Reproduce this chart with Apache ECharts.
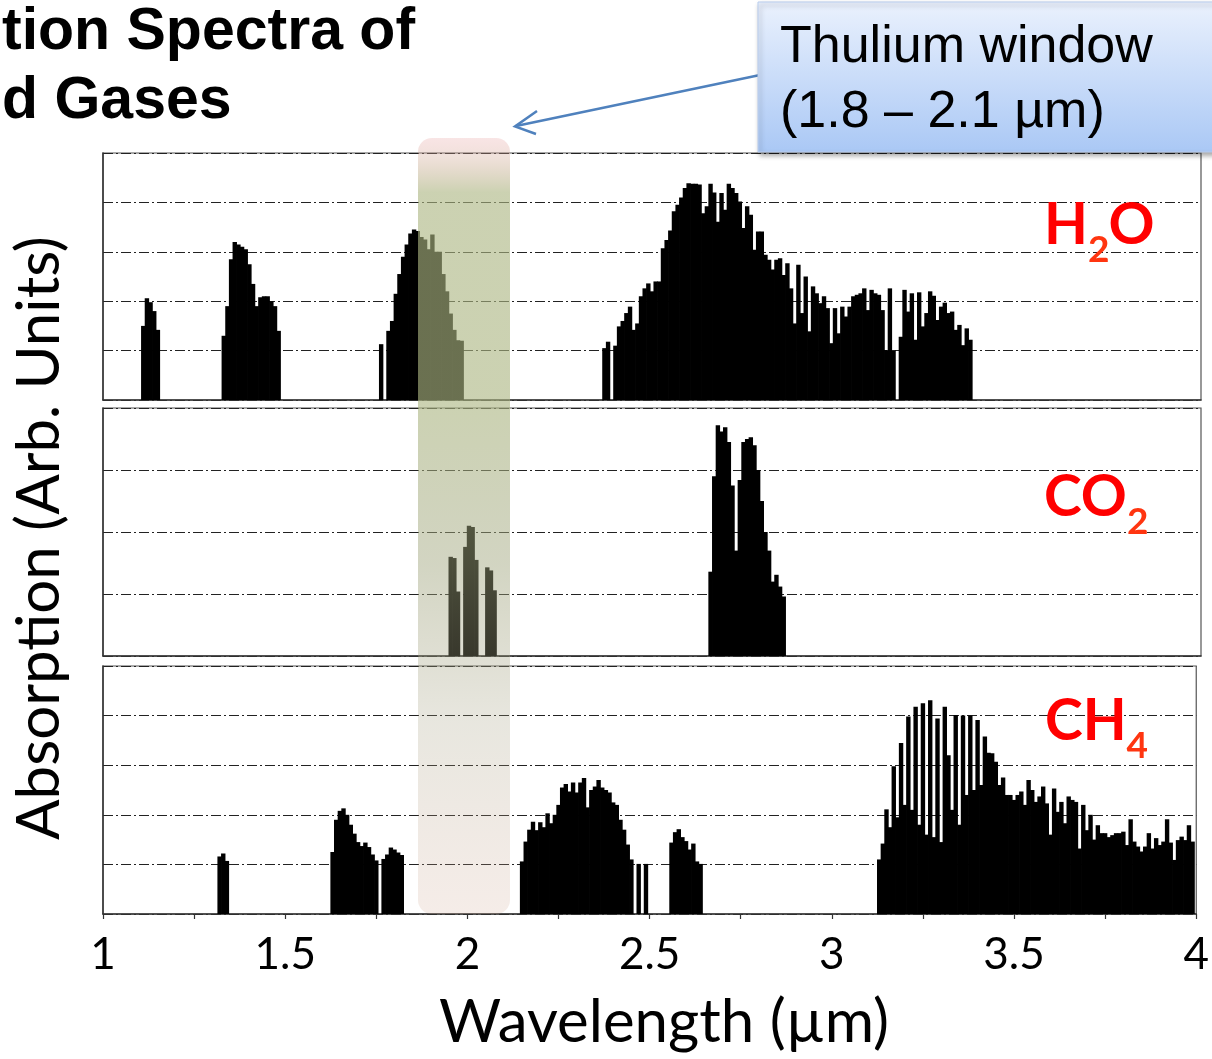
<!DOCTYPE html>
<html><head><meta charset="utf-8">
<script src="https://cdn.jsdelivr.net/npm/echarts@6/dist/echarts.min.js"></script>
<style>html,body{margin:0;padding:0;background:#fff}#chart{width:1212px;height:1059px}</style>
</head><body><div id="chart"></div>
<script>
// ---------------- data ----------------
const WL_STEP = 0.01;                       // spectral sampling (µm)
const X_TICK_LABELS = ['1', '1.5', '2', '2.5', '3', '3.5', '4'];

// H2O absorption bands (start wavelength, values every 0.01 µm)
const H2O_STARTS = [1.11, 1.33, 1.76, 2.37];
const H2O_BAND_1 = [1.5, 2.06, 1.98, 1.8, 1.42];
const H2O_BAND_2 = [1.3, 1.9, 2.85, 3.2, 3.15, 3.1, 3.05, 2.75, 2.35, 1.9, 2.08, 2.1, 2.1, 2.0, 1.9, 1.4];
const H2O_BAND_3 = [1.13, 0, 1.4, 1.6, 2.15, 2.55, 2.9, 3.15, 3.37, 3.45, 3.42, 3.3, 3.25, 3.05, 3.35, 3.0, 3.0, 2.55, 2.2, 1.75, 1.42, 1.21, 1.2];
const H2O_BAND_4 = [
  1.05, 1.18, 0, 1.1, 1.49, 1.6, 1.76, 1.89, 1.42, 1.55,
  2.1, 2.26, 2.36, 2.2, 2.4, 2.4, 3.07, 3.24, 3.43, 3.82,
  3.95, 4.1, 4.29, 4.39, 4.38, 4.38, 4.36, 3.78, 3.92, 4.38,
  4.2, 3.61, 4.19, 3.85, 4.38, 4.29, 4.19, 4.02, 3.48, 3.92,
  3.75, 3.04, 3.41, 3.41, 2.94, 2.84, 2.64, 2.84, 2.87, 2.53,
  2.77, 2.26, 1.55, 2.74, 1.76, 2.5, 1.39, 2.3, 2.16, 1.96,
  2.1, 1.86, 1.15, 1.86, 1.35, 1.89, 1.69, 1.89, 2.1, 2.13,
  2.16, 2.26, 1.82, 2.23, 2.16, 2.13, 1.82, 1.01, 2.26, 1.01,
  0, 1.28, 2.23, 1.79, 2.16, 1.22, 2.18, 1.49, 1.76, 2.2,
  2.11, 1.62, 1.89, 1.97, 1.76, 1.79, 1.42, 1.52, 1.11, 1.45,
  1.22];

// CO2 absorption bands
const CO2_STARTS = [1.95, 1.99, 2.05, 2.66];
const CO2_BAND_1 = [1.6, 1.58, 1.04];
const CO2_BAND_2 = [1.76, 2.1, 2.08, 1.55];
const CO2_BAND_3 = [1.43, 1.38, 1.06];
const CO2_BAND_4 = [1.36, 2.9, 3.72, 3.62, 3.69, 3.45, 2.75, 1.7, 2.84, 3.45, 3.5, 3.53, 3.4, 3.0, 2.5, 2.0, 1.7, 1.2, 1.31, 1.12, 0.96];

// CH4 absorption bands
const CH4_STARTS = [1.32, 1.63, 1.77, 2.15, 2.47, 2.56, 3.13];
const CH4_BAND_1 = [1.16, 1.22, 1.07];
const CH4_BAND_2 = [1.25, 1.9, 2.08, 2.13, 2.0, 1.8, 1.62, 1.45, 1.37, 1.44, 1.35, 1.2, 1.08];
const CH4_BAND_3 = [1.11, 1.2, 1.34, 1.3, 1.24, 1.19];
const CH4_BAND_4 = [1.06, 1.46, 1.7, 1.86, 1.69, 1.85, 1.75, 2.03, 1.83, 2.0, 2.2, 2.55, 2.62, 2.47, 2.65, 2.45, 2.65, 2.74, 2.15, 2.5, 2.57, 2.7, 2.55, 2.5, 2.45, 2.25, 2.2, 1.9, 1.7, 1.4, 1.1];
const CH4_BAND_5 = [1.01, 0, 1.01];
const CH4_BAND_6 = [1.44, 1.65, 1.71, 1.55, 1.47, 1.3, 1.42, 1.06, 1.01];
const CH4_BAND_7 = [
  1.1, 1.42, 2.11, 1.75, 2.98, 1.95, 3.45, 2.2, 3.98, 2.1,
  4.18, 1.8, 4.25, 1.6, 4.31, 1.55, 3.94, 1.45, 4.18, 3.2,
  2.1, 4.01, 1.8, 4.0, 2.4, 4.0, 2.5, 3.91, 2.6, 3.58,
  3.25, 3.24, 3.07, 2.6, 2.75, 2.4, 2.4, 2.3, 2.4, 2.47,
  2.2, 2.7, 2.5, 2.26, 2.37, 2.57, 2.23, 1.6, 2.53, 2.06,
  2.26, 1.83, 2.37, 2.3, 2.26, 1.32, 2.2, 1.69, 2.0, 1.5,
  1.79, 1.63, 1.63, 1.55, 1.59, 1.63, 1.63, 1.66, 1.39, 1.91,
  1.46, 1.36, 1.26, 1.36, 1.63, 1.32, 1.53, 1.39, 1.46, 1.91,
  1.44, 1.09, 1.49, 1.56, 1.49, 1.79, 1.46];

// ---------------- helpers ----------------
function buildData(starts, bands) {
  const out = [];
  bands.forEach((vals, i) => vals.forEach((v, j) => {
    if (v > 0) out.push([+(starts[i] + j * WL_STEP).toFixed(2), v]);
  }));
  return out;
}
const h2oData = buildData(H2O_STARTS, [H2O_BAND_1, H2O_BAND_2, H2O_BAND_3, H2O_BAND_4]);
const co2Data = buildData(CO2_STARTS, [CO2_BAND_1, CO2_BAND_2, CO2_BAND_3, CO2_BAND_4]);
const ch4Data = buildData(CH4_STARTS, [CH4_BAND_1, CH4_BAND_2, CH4_BAND_3, CH4_BAND_4, CH4_BAND_5, CH4_BAND_6, CH4_BAND_7]);

const mctx = document.createElement('canvas').getContext('2d');
function textWidth(font, t) { mctx.font = font; return mctx.measureText(t).width; }

function txt(text, x, y, font, fill, align, extra) {
  return Object.assign({
    type: 'text', z: 120,
    style: { text: text, x: x, y: y, font: font, fill: fill,
             align: align || 'left', textAlign: align || 'left',
             verticalAlign: 'middle', textVerticalAlign: 'middle' }
  }, extra || {});
}

// chemical formula with subscripts; baseline-based placement (Lato: middle = baseline - 0.387em)
function formula(parts, left, baseline) {
  const mainSize = 57, subSize = 37, subDrop = 16;
  const els = [];
  let x = left;
  parts.forEach(p => {
    const size = p.sub ? subSize : mainSize;
    const font = 'bold ' + size + 'px Lato';
    const base = p.sub ? baseline + subDrop : baseline;
    els.push(txt(p.t, x, base - 0.387 * size, font, p.sub ? '#ff3510' : '#ff0000'));
    x += textWidth(font, p.t) + (p.sub ? -1 : 0);
  });
  return els;
}

const chart = echarts.init(document.getElementById('chart'), null, { renderer: 'canvas' });

const grids = [
  { left: 103, right: 11, top: 153, height: 247 },
  { left: 103, right: 11, top: 408, height: 248 },
  { left: 103, right: 11, top: 666, height: 248 }
].map(g => Object.assign(g, { show: true, borderColor: '#555', borderWidth: 1.2, backgroundColor: 'transparent', containLabel: false }));

const yMax = [5, 4, 5];

const option = {
  animation: false,
  backgroundColor: '#ffffff',
  textStyle: { fontFamily: 'Lato' },
  grid: grids,
  xAxis: [0, 1, 2].map(i => ({
    gridIndex: i, type: 'value', min: 1, max: 4, interval: 0.25,
    splitLine: { show: false },
    axisLine: { show: true, onZero: false, lineStyle: { color: '#333', width: 1.5 } },
    axisTick: { show: i === 2, length: 5, inside: false, lineStyle: { color: '#333', width: 1.2 } },
    axisLabel: {
      show: i === 2, margin: 19, fontSize: 44, fontFamily: 'Lato', color: '#000', hideOverlap: false,
      formatter: v => { const s = String(+(+v).toFixed(2)); return X_TICK_LABELS.indexOf(s) >= 0 ? s : ''; }
    }
  })),
  yAxis: [0, 1, 2].map(i => ({
    gridIndex: i, type: 'value', min: 0, max: yMax[i], interval: 1,
    axisLine: { show: true, lineStyle: { color: '#333', width: 1.5 } },
    axisTick: { show: false }, axisLabel: { show: false },
    splitLine: { show: true, lineStyle: { color: '#222', width: 1, type: [10, 3, 2, 3] } }
  })),
  series: [h2oData, co2Data, ch4Data].map((d, i) => ({
    type: 'bar', xAxisIndex: i, yAxisIndex: i, data: d,
    barWidth: 4.4, itemStyle: { color: '#000' }, silent: true, large: false
  })),
  graphic: [].concat(
    [
      // Thulium window highlight band
      { type: 'rect', z: 100, shape: { x: 418, y: 138, width: 92, height: 776, r: 14 },
        style: { fill: { type: 'linear', x: 0, y: 0, x2: 0, y2: 1, colorStops: [
          { offset: 0, color: 'rgba(230,150,150,0.25)' },
          { offset: 0.025, color: 'rgba(210,170,150,0.35)' },
          { offset: 0.07, color: 'rgba(172,182,130,0.62)' },
          { offset: 0.34, color: 'rgba(172,182,130,0.62)' },
          { offset: 0.55, color: 'rgba(160,165,125,0.47)' },
          { offset: 0.75, color: 'rgba(165,160,130,0.26)' },
          { offset: 1, color: 'rgba(210,170,150,0.22)' } ] } } },
      // arrow
      { type: 'polyline', z: 110, shape: { points: [[760, 75], [516, 126]] },
        style: { stroke: '#4f81bd', lineWidth: 2.5, fill: null } },
      { type: 'polyline', z: 110, shape: { points: [[537, 111], [515, 126.5], [536, 134]] },
        style: { stroke: '#4f81bd', lineWidth: 2.5, fill: null, lineJoin: 'miter' } },
      // annotation box
      { type: 'rect', z: 115, shape: { x: 758, y: 2, width: 470, height: 150 },
        style: { fill: { type: 'linear', x: 0, y: 0, x2: 0, y2: 1, colorStops: [
          { offset: 0, color: '#eaf1fd' }, { offset: 1, color: '#aac8f5' } ] },
          stroke: '#b9cdee', lineWidth: 1,
          shadowBlur: 5, shadowOffsetX: 2, shadowOffsetY: 3, shadowColor: 'rgba(0,0,0,0.35)' } },
      txt('Thulium window', 780, 66 - 0.3465 * 52, '52px "Liberation Sans"', '#000'),
      txt('(1.8 \u2013 2.1 \u00b5m)', 780, 131 - 0.3465 * 52, '52px "Liberation Sans"', '#000'),
      // cut-off slide title
      txt('tion Spectra of', 2, 53 - 0.3465 * 59, 'bold 59px "Liberation Sans"', '#000'),
      txt('d Gases', 2, 122 - 0.3465 * 59, 'bold 59px "Liberation Sans"', '#000'),
      // axis titles
      txt('Wavelength (\u00b5m)', 664, 1046 - 0.387 * 60, '60px Lato', '#000', 'center'),
      { type: 'text', z: 120, x: 40, y: 538, rotation: Math.PI / 2,
        style: { text: 'Absorption (Arb. Units)', x: 0, y: 0, font: '60px Lato', fill: '#000',
                 align: 'center', textAlign: 'center', verticalAlign: 'middle', textVerticalAlign: 'middle' } }
    ],
    formula([{ t: 'H' }, { t: '2', sub: true }, { t: 'O' }], 1044, 248),
    formula([{ t: 'CO' }, { t: '2', sub: true }], 1044, 520),
    formula([{ t: 'CH' }, { t: '4', sub: true }], 1045, 744)
  )
};
chart.setOption(option);
</script></body></html>
